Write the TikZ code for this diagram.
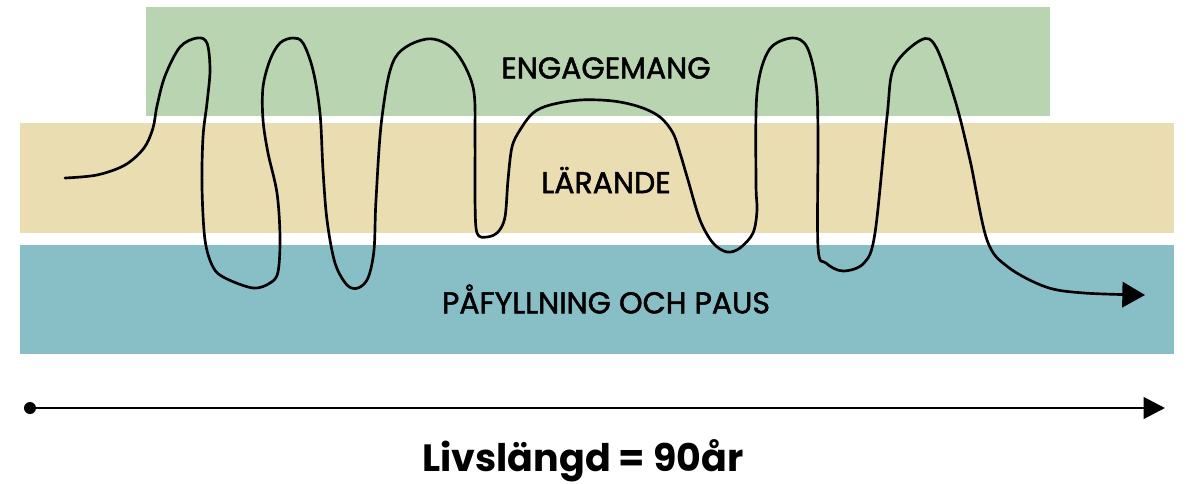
\documentclass[tikz,border=0pt]{standalone}
\usepackage{fontspec}
\setmainfont{Poppins}
\newfontfamily\bandfont[FakeBold=1.6]{Poppins}
\usetikzlibrary{arrows.meta}

\definecolor{bandgreen}{RGB}{184,212,176}
\definecolor{bandbeige}{RGB}{234,221,178}
\definecolor{bandteal}{RGB}{136,191,199}

\tikzset{
    band/.style={draw=none},
    bandlabel/.style={font=\bandfont\fontsize{22.5}{26}\selectfont, text=black, inner sep=0pt},
    lifeline/.style={black, line width=2pt, line cap=round, line join=round},
    timeline/.style={black, line width=2.2pt, -{Triangle[length=16pt, width=16pt]}}
}

\begin{document}
\begin{tikzpicture}[x=0.75pt, y=-0.75pt]
    \useasboundingbox (0,0) rectangle (1186,483);

    % Bands
    \fill[band, bandgreen] (146,7) rectangle (1050,116);
    \fill[band, bandbeige] (20,123) rectangle (1174,233);
    \fill[band, bandteal] (20,245) rectangle (1174,354);

    % Band labels
    \node[bandlabel] (engagemang) at (606,68) {ENGAGEMANG};
    \node[bandlabel] (larande) at (606,180) {LÄRANDE};
    \node[bandlabel] (pafyllning) at (606,299) {PÅFYLLNING OCH PAUS};

    % Life curve
    \draw[lifeline, -{Triangle[length=17pt, width=19pt]}]
        plot[smooth, tension=0.55] coordinates {(65,178) (97,175) (125,165) (144,148) (153,128) (157,106) (165,76) (180,47) (197,38) (207,43) (210,70) (207,103) (203,137) (202,187) (205,240) (213,267) (225,278) (253,288) (270,283) (278,272) (280,237) (277,193) (268,153) (263,120) (263,87) (270,60) (280,43) (293,38) (303,43) (313,70) (320,113) (323,170) (327,220) (335,263) (347,285) (358,288) (368,278) (374,250) (376,200) (382,117) (395,58) (427,39) (454,50) (473,87) (475,140) (475,200) (477,233) (487,237) (498,232) (505,217) (508,180) (512,147) (520,130) (533,113) (550,105) (580,100) (613,101) (640,107) (660,117) (673,133) (680,153) (688,180) (700,220) (713,243) (727,252) (740,248) (753,233) (757,210) (756,183) (757,93) (769,50) (792,38) (807,47) (816,83) (818,133) (818,247) (826,263) (843,271) (864,263) (875,233) (887,117) (894,67) (921,40) (936,47) (955,100) (970,160) (987,240) (1008,267) (1046,287) (1084,293) (1145,295)};

    % Timeline
    \coordinate (birth) at (30,408);
    \coordinate (death) at (1165,408);
    \fill[black] (birth) circle (6);
    \draw[timeline] (birth) -- (death);

    % Caption
    \node[font=\fontsize{28.5}{32}\selectfont\bfseries, inner sep=0pt] (lifespan) at (583,461) {Livslängd = 90år};
\end{tikzpicture}
\end{document}
